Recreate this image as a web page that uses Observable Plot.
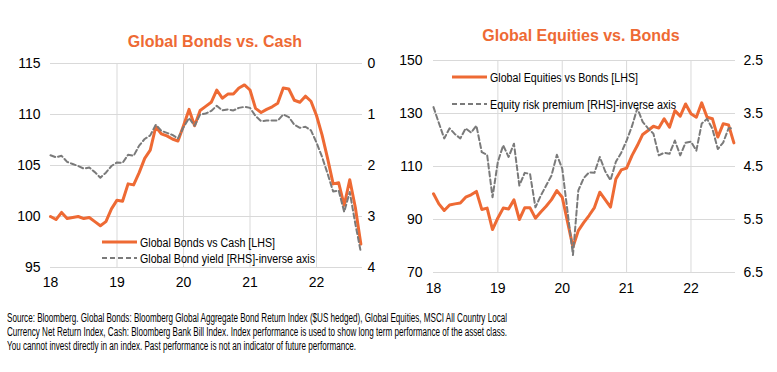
<!DOCTYPE html>
<html><head><meta charset="utf-8">
<script src="https://cdn.jsdelivr.net/npm/d3@7"></script>
<script src="https://cdn.jsdelivr.net/npm/@observablehq/plot@0.6"></script>
<style>
body{margin:0;background:#fff;}
#root{position:relative;width:777px;height:372px;overflow:hidden;background:#fff;font-family:"Liberation Sans",Arial,sans-serif;}
.layer{position:absolute;top:0;}
.title{position:absolute;color:#EE6A34;font-weight:bold;font-size:16px;transform:translateX(-50%);white-space:nowrap;line-height:1;}
.foot{position:absolute;left:7px;white-space:nowrap;font-size:12.5px;line-height:14px;color:#000;transform-origin:0 0;display:inline-block;}
</style></head>
<body><div id="root"></div>
<script>
const yearLabels = ["18","19","20","21","22"];
const yearTickMonths = [0,12,24,36,48];
// Monthly, Jan 2018 .. Sep 2022
const bondsVsCash = [100.0,99.7,100.4,99.8,99.9,100.0,99.8,99.9,99.5,99.1,99.5,100.75,
 101.6,101.5,103.2,103.1,104.3,105.7,106.5,108.8,108.1,107.9,107.6,107.4,
 108.9,110.5,108.9,110.4,110.8,111.2,112.4,111.6,112.0,112.0,112.6,112.9,
 112.4,110.6,110.2,110.5,110.75,111.1,112.6,112.5,111.4,111.2,111.8,111.3,
 109.9,108.0,105.7,103.2,103.3,101.1,103.6,100.9,97.3];
const bondYield = [1.80,1.84,1.81,1.93,1.97,2.01,2.06,2.04,2.13,2.24,2.14,2.01,
 1.94,1.95,1.79,1.81,1.61,1.48,1.41,1.20,1.32,1.36,1.40,1.47,
 1.25,1.07,1.22,1.00,0.98,0.93,0.83,0.92,0.90,0.92,0.87,0.85,
 0.87,1.03,1.13,1.12,1.12,1.12,1.00,1.05,1.20,1.26,1.24,1.31,
 1.55,1.83,2.16,2.51,2.49,2.91,2.52,3.14,3.70];
const equitiesVsBonds = [99.7,95.9,93.4,95.5,95.9,96.2,98.4,99.3,100.6,93.8,94.3,86.2,
 90.6,94.3,94.0,97.4,90.0,94.4,94.4,90.5,92.8,95.0,97.5,100.9,
 98.4,89.0,79.6,85.8,88.8,91.5,94.5,100.3,97.5,94.7,105.3,108.7,
 109.4,114.1,117.9,122.1,123.6,125.2,124.5,128.0,124.8,131.1,129.0,133.6,
 129.9,128.6,134.0,128.6,128.0,121.1,126.1,125.7,118.9];
const equityRiskPremium = [3.38,3.68,3.97,3.78,3.89,3.97,3.78,3.86,3.73,4.23,4.28,5.08,
 4.41,4.10,4.32,4.07,4.86,4.62,4.64,5.27,5.05,4.86,4.67,4.28,
 4.54,5.36,6.17,4.95,4.72,4.61,4.62,4.32,4.59,4.76,4.41,4.24,
 4.01,3.74,3.40,3.66,3.78,3.88,4.29,4.24,4.26,4.01,4.29,4.05,
 4.03,4.20,3.69,3.60,3.79,4.17,4.05,3.78,3.78];
const leftTicks = [95,100,105,110,115];
const leftRhsTicks = [0,1,2,3,4];
const rightTicks = [70,90,110,130,150];
const rightRhsTicks = [2.5,3.5,4.5,5.5,6.5];

const ORANGE = "#EE6A34", GRAY = "#7A7A7A", GRID = "#D9D9D9";
const FONT = "'Liberation Sans', Arial, sans-serif";
const root = document.getElementById("root");
const months = d3.range(bondsVsCash.length);
const mk = (vals) => months.map(i => ({m: i, v: vals[i]}));

function addLayer(el, left){ el.classList.add("layer"); el.style.left = left+"px"; root.appendChild(el); }

function chart(cfg){
  const common = {width: cfg.w, height: 300, marginLeft: cfg.ml, marginRight: cfg.mr, marginTop: cfg.mt, marginBottom: 300 - cfg.mb,
    style: {fontFamily: FONT, fontSize: "14px", color: "#000", background: "transparent", overflow: "visible"}};
  const A = Plot.plot({...common,
    x: {domain: [0, 56.3]},
    y: {domain: cfg.lDomain},
    marks: [
      Plot.gridY(cfg.lTicks, {stroke: GRID, strokeOpacity: 1, strokeWidth: 1}),
      Plot.gridX(yearTickMonths.slice(1), {stroke: GRID, strokeOpacity: 1, strokeWidth: 1}),
      Plot.axisX(yearTickMonths, {tickSize: 0, tickPadding: cfg.xPad, tickFormat: d => yearLabels[d/12], label: null, fill: "#000"}),
      Plot.axisY(cfg.lTicks, {tickSize: 0, tickPadding: cfg.yPad, label: null, fill: "#000"}),
      Plot.line(mk(cfg.lVals), {x: "m", y: "v", stroke: ORANGE, strokeWidth: 3})
    ]});
  const B = Plot.plot({...common,
    x: {domain: [0, 56.3], axis: null},
    y: {domain: cfg.rDomain},
    marks: [
      Plot.line(mk(cfg.rVals), {x: "m", y: "v", stroke: GRAY, strokeWidth: 2, strokeDasharray: "5,3"}),
      Plot.axisY(cfg.rTicks, {anchor: "right", tickSize: 0, tickPadding: cfg.rPad, label: null, fill: "#000", tickFormat: cfg.rFmt})
    ]});
  addLayer(A, cfg.left); addLayer(B, cfg.left);
}

chart({left: 0, w: 390, ml: 50, mr: 28, mt: 63, mb: 267, lDomain: [95,115], lTicks: leftTicks, lVals: bondsVsCash,
  rDomain: [4,0], rTicks: leftRhsTicks, rVals: bondYield, rFmt: d => String(d), xPad: 10, yPad: 10, rPad: 5});
chart({left: 390, w: 387, ml: 43, mr: 42, mt: 60, mb: 272, lDomain: [70,150], lTicks: rightTicks, lVals: equitiesVsBonds,
  rDomain: [6.5,2.5], rTicks: rightRhsTicks, rVals: equityRiskPremium, rFmt: d => d.toFixed(1), xPad: 11, yPad: 11, rPad: 8});

function title(text, cx, top){ const d = document.createElement("div"); d.className = "title"; d.textContent = text; d.style.left = cx+"px"; d.style.top = top+"px"; root.appendChild(d); }
title("Global Bonds vs. Cash", 215, 34);
title("Global Equities vs. Bonds", 581, 28);

const ns = "http://www.w3.org/2000/svg";
const ov = document.createElementNS(ns, "svg");
ov.setAttribute("width", 777); ov.setAttribute("height", 300);
ov.style.position = "absolute"; ov.style.left = "0px"; ov.style.top = "0px";
root.appendChild(ov);

function addText(t, x, y, size, len){
  const el = document.createElementNS(ns, "text");
  el.setAttribute("x", x); el.setAttribute("y", y);
  el.setAttribute("font-family", FONT);
  el.setAttribute("font-size", size);
  el.setAttribute("textLength", len); el.setAttribute("lengthAdjust", "spacingAndGlyphs");
  el.textContent = t; ov.appendChild(el);
}
function legend(text, x, y, color, dashed, len){
  const l = document.createElementNS(ns, "line");
  l.setAttribute("x1", x); l.setAttribute("x2", x+35); l.setAttribute("y1", y); l.setAttribute("y2", y);
  l.setAttribute("stroke", color); l.setAttribute("stroke-width", dashed ? 2 : 3);
  if (dashed) l.setAttribute("stroke-dasharray", "5,3");
  ov.appendChild(l);
  addText(text, x+38, y+4.5, 12.5, len);
}
legend("Global Bonds vs Cash [LHS]", 102, 242, ORANGE, false, 135);
legend("Global Bond yield [RHS]-inverse axis", 102, 258, GRAY, true, 175);
legend("Global Equities vs Bonds [LHS]", 452, 77, ORANGE, false, 148);
legend("Equity risk premium [RHS]-inverse axis", 452, 104, GRAY, true, 186);

// footer (horizontally condensed to the reference's line widths)
const footLines = [
 ["Source: Bloomberg. Global Bonds: Bloomberg Global Aggregate Bond Return Index ($US hedged), Global Equities, MSCI All Country Local", 500],
 ["Currency Net Return Index,  Cash: Bloomberg Bank Bill Index.   Index performance is used to show long term performance of the asset class.", 500],
 ["You  cannot invest directly in an index.  Past performance is not an indicator of future performance.", 349]
];
footLines.forEach(([t, len], i) => {
  const d = document.createElement("div");
  d.className = "foot"; d.textContent = t; d.style.top = (311 + i*14) + "px";
  root.appendChild(d);
  const w = d.getBoundingClientRect().width;
  d.style.transform = `scaleX(${len / w})`;
});
</script></body></html>
